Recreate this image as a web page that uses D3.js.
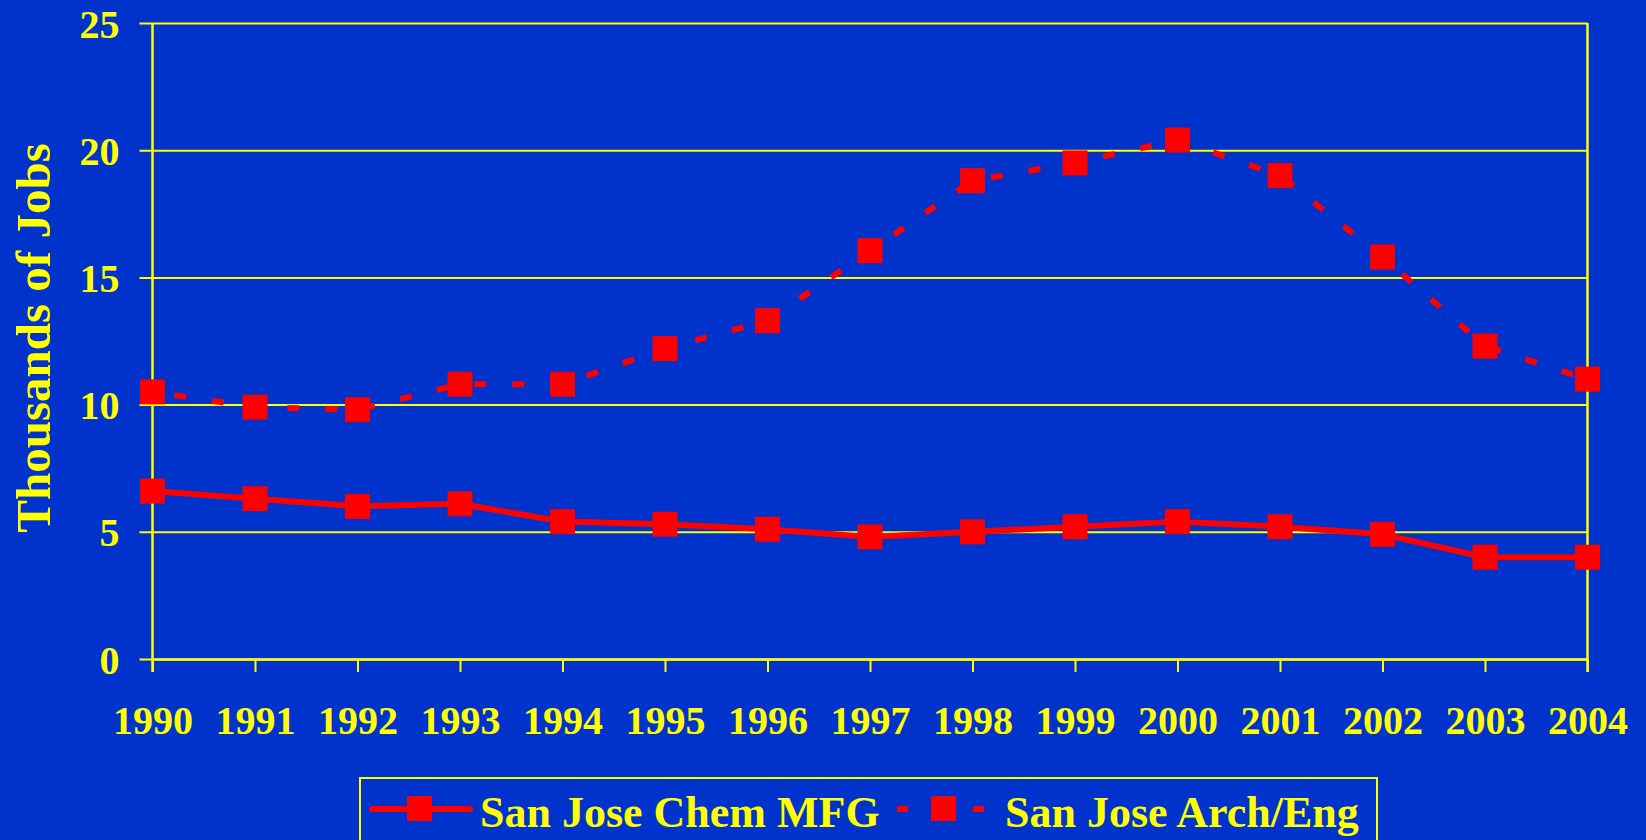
<!DOCTYPE html>
<html>
<head>
<meta charset="utf-8">
<script src="https://cdn.jsdelivr.net/npm/d3@7"></script>
<style>
html,body{margin:0;padding:0;background:#0033CC;}
svg{display:block;}
text{font-family:"Liberation Serif","Times New Roman",serif;font-weight:bold;fill:#FFFF00;}
</style>
</head>
<body>
<svg id="chart" width="1646" height="840"></svg>
<script>
const years = [1990,1991,1992,1993,1994,1995,1996,1997,1998,1999,2000,2001,2002,2003,2004];
const chemMfg = [6.6,6.3,6.0,6.1,5.4,5.3,5.1,4.8,5.0,5.2,5.4,5.2,4.9,4.0,4.0];
const archEng = [10.5,9.9,9.8,10.8,10.8,12.2,13.3,16.05,18.8,19.5,20.4,19.0,15.8,12.3,11.0];
const yTicks = [0,5,10,15,20,25];
const seriesNames = ["San Jose Chem MFG","San Jose Arch/Eng"];
const yTitle = "Thousands of Jobs";

const BG = "#0033CC", YEL = "#FFFF00", RED = "#FF0000";
const svg = d3.select("#chart");
svg.append("rect").attr("width",1646).attr("height",840).attr("fill",BG);

const pL = 152.5, pR = 1587.5, pT = 23, pB = 659;
const x = d3.scaleLinear().domain([1990,2004]).range([pL,pR]);
const y = d3.scaleLinear().domain([0,25]).range([pB,pT]);

// Y axis with gridlines
const yAxis = svg.append("g").attr("transform",`translate(${pL},0)`)
  .call(d3.axisLeft(y).tickValues(yTicks).tickSizeInner(-(pR-pL)).tickSizeOuter(0).tickFormat(d3.format("d")));
yAxis.select(".domain").remove();
yAxis.selectAll(".tick line").attr("x1",-13).attr("x2",pR-pL).attr("stroke",YEL).attr("stroke-width",2);
yAxis.selectAll(".tick text").attr("x",-33).attr("dy","0.35em").attr("font-size",40).attr("fill",YEL)
  .style("font-family","'Liberation Serif',serif").style("font-weight","bold");

// X axis
const xAxis = svg.append("g").attr("transform",`translate(0,${pB})`)
  .call(d3.axisBottom(x).tickValues(years).tickSizeInner(13).tickSizeOuter(0).tickFormat(d3.format("d")));
xAxis.select(".domain").attr("stroke",YEL).attr("stroke-width",2.5);
xAxis.selectAll(".tick line").attr("stroke",YEL).attr("stroke-width",2);
xAxis.selectAll(".tick text").attr("y",75).attr("dy",0).attr("font-size",40).attr("fill",YEL)
  .style("font-family","'Liberation Serif',serif").style("font-weight","bold");

// plot left & right border lines
svg.append("line").attr("x1",pL).attr("x2",pL).attr("y1",pT).attr("y2",pB+13).attr("stroke",YEL).attr("stroke-width",2.5);
svg.append("line").attr("x1",pR).attr("x2",pR).attr("y1",pT).attr("y2",pB+13).attr("stroke",YEL).attr("stroke-width",2.5);

// Y title
svg.append("text").attr("transform",`translate(50,338) rotate(-90)`).attr("text-anchor","middle")
  .attr("font-size",49).text(yTitle);

const line = d3.line().x((d,i)=>x(years[i])).y(d=>y(d));

// Arch/Eng dashed
svg.append("path").datum(archEng).attr("d",line).attr("fill","none").attr("stroke",RED)
  .attr("stroke-width",6).attr("stroke-dasharray","12,26").attr("stroke-dashoffset",-22);
// Chem solid
svg.append("path").datum(chemMfg).attr("d",line).attr("fill","none").attr("stroke",RED)
  .attr("stroke-width",6).attr("stroke-linejoin","round");

const ms = 25;
[chemMfg, archEng].forEach(series=>{
  svg.append("g").selectAll("rect").data(series).join("rect")
    .attr("x",(d,i)=>x(years[i])-ms/2).attr("y",d=>y(d)-ms/2)
    .attr("width",ms).attr("height",ms).attr("fill",RED);
});

// Legend
const lg = svg.append("g");
lg.append("rect").attr("x",360).attr("y",778).attr("width",1017).attr("height",80)
  .attr("fill","none").attr("stroke",YEL).attr("stroke-width",2);
lg.append("line").attr("x1",372).attr("x2",470).attr("y1",809).attr("y2",809).attr("stroke",RED).attr("stroke-width",6).attr("stroke-linecap","round");
lg.append("rect").attr("x",407).attr("y",796).attr("width",ms).attr("height",ms).attr("fill",RED);
lg.append("text").attr("x",480).attr("y",827).attr("font-size",44).text(seriesNames[0]);
lg.append("rect").attr("x",897).attr("y",806).attr("width",11).attr("height",6).attr("fill",RED);
lg.append("rect").attr("x",931).attr("y",796).attr("width",ms).attr("height",ms).attr("fill",RED);
lg.append("rect").attr("x",973).attr("y",806).attr("width",11).attr("height",6).attr("fill",RED);
lg.append("text").attr("x",1005).attr("y",827).attr("font-size",44).text(seriesNames[1]);
</script>
</body>
</html>
